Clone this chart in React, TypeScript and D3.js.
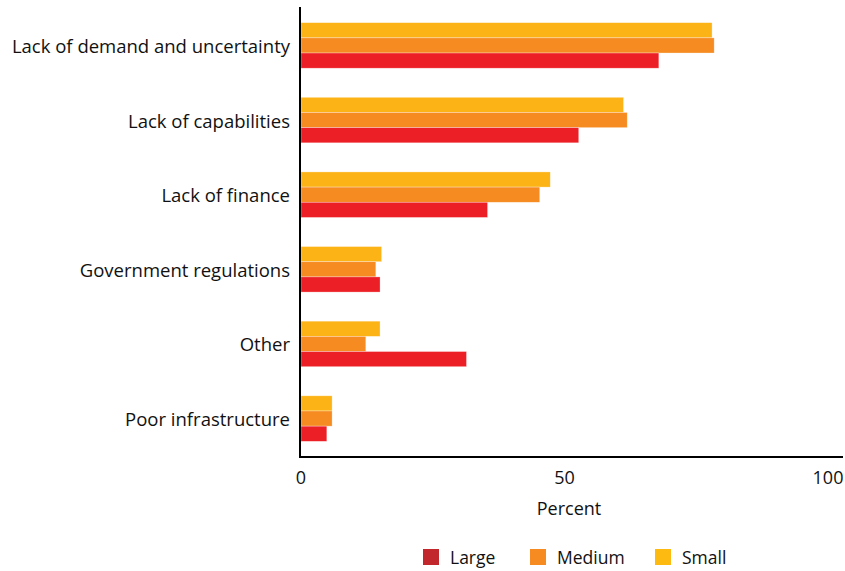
import React from "react";
import * as d3 from "d3";

const categories = [
  "Lack of demand and uncertainty",
  "Lack of capabilities",
  "Lack of finance",
  "Government regulations",
  "Other",
  "Poor infrastructure",
];
const seriesNames = ["Small", "Medium", "Large"];
const smallValues = [78.0, 61.2, 47.3, 15.3, 15.0, 5.9];
const mediumValues = [78.4, 61.9, 45.3, 14.2, 12.3, 5.9];
const largeValues = [67.9, 52.7, 35.4, 15.0, 31.4, 4.9];
const xTicks = [0, 50, 100];
const legendNames = ["Large", "Medium", "Small"];

const barColors: Record<string, string> = {
  Small: "#FCB316",
  Medium: "#F68B22",
  Large: "#EC1F26",
};
const legendColors: Record<string, string> = {
  Large: "#C1272D",
  Medium: "#F68B22",
  Small: "#FDBB12",
};

const W = 845;
const H = 571;
const FONT = "'Open Sans', 'Noto Sans', sans-serif";

export default function App() {
  const x = d3.scaleLinear().domain([0, 100]).range([301, 828]);
  const y = d3
    .scaleBand<string>()
    .domain(categories)
    .range([7, 457])
    .paddingInner(0.39)
    .paddingOuter(0.21);
  const inner = d3
    .scaleBand<string>()
    .domain(seriesNames)
    .range([0, y.bandwidth()]);
  const values: Record<string, number[]> = {
    Small: smallValues,
    Medium: mediumValues,
    Large: largeValues,
  };

  const legendX = [423, 530, 655];

  return (
    <svg
      width={W}
      height={H}
      style={{ position: "absolute", left: 0, top: 0, background: "#fff" }}
      fontFamily={FONT}
    >
      {categories.map((c, i) => (
        <g key={c}>
          {seriesNames.map((s) => (
            <rect
              key={s}
              x={x(0)}
              y={(y(c) as number) + (inner(s) as number)}
              width={x(values[s][i]) - x(0)}
              height={inner.bandwidth()}
              fill={barColors[s]}
              stroke="#fff"
              strokeOpacity={0.5}
              strokeWidth={0.6}
            />
          ))}
          <text
            x={290}
            y={(y(c) as number) + y.bandwidth() / 2}
            textAnchor="end"
            dominantBaseline="central"
            fontSize={18.5}
            fill="#111"
          >
            {c}
          </text>
        </g>
      ))}
      <line x1={300} x2={300} y1={7} y2={458} stroke="#000" strokeWidth={2} />
      <line x1={299} x2={843} y1={457} y2={457} stroke="#000" strokeWidth={2} />
      {xTicks.map((t) => (
        <text
          key={t}
          x={x(t)}
          y={484}
          textAnchor="middle"
          fontSize={18}
          fill="#111"
        >
          {t}
        </text>
      ))}
      <text x={569} y={515} textAnchor="middle" fontSize={18} fill="#111">
        Percent
      </text>
      {legendNames.map((n, i) => (
        <g key={n}>
          <rect x={legendX[i]} y={549} width={16} height={16} fill={legendColors[n]} />
          <text x={legendX[i] + 27} y={564} fontSize={17.5} fill="#111">
            {n}
          </text>
        </g>
      ))}
    </svg>
  );
}
